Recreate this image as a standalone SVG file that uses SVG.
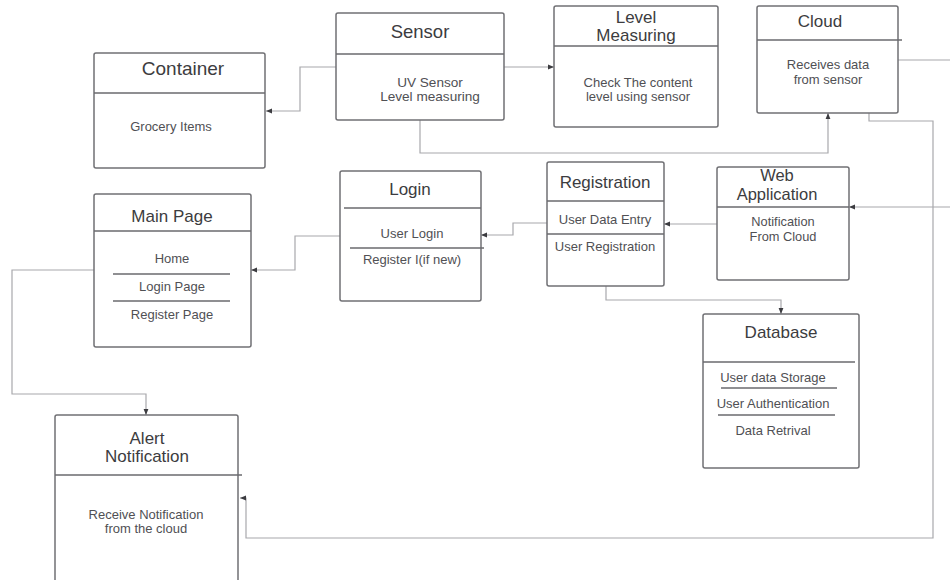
<svg xmlns="http://www.w3.org/2000/svg" width="950" height="580" viewBox="0 0 950 580">
<defs>
<style>
.box{fill:#fff;stroke:#707074;stroke-width:1.5}
.div{stroke:#6a6a6e;stroke-width:1.3;fill:none}
.t{font-family:"Liberation Sans",Arial,sans-serif;font-size:17px;fill:#3c3c40;text-anchor:middle}
.b{font-family:"Liberation Sans",Arial,sans-serif;font-size:13px;fill:#505054;text-anchor:middle}
.c{fill:none;stroke:#a8a8ac;stroke-width:1.2}
</style>
<marker id="ar" viewBox="0 0 10 10" refX="10" refY="5" markerWidth="6" markerHeight="6" orient="auto" markerUnits="userSpaceOnUse">
<path d="M0,1 L10,5 L0,9 z" fill="#3c3c40"/>
</marker>
</defs>
<rect width="950" height="580" fill="#fff"/>

<g id="connectors">
<path class="c" d="M336,67 H300 V111 H266" marker-end="url(#ar)"/>
<path class="c" d="M504,67 H554" marker-end="url(#ar)"/>
<path class="c" d="M420,120 V153 H828 V113" marker-end="url(#ar)"/>
<path class="c" d="M898,60 H950"/>
<path class="c" d="M869,113 V121 H933 V538 H246 V498 H240" marker-end="url(#ar)"/>
<path class="c" d="M950,207 H849" marker-end="url(#ar)"/>
<path class="c" d="M717,224 H664" marker-end="url(#ar)"/>
<path class="c" d="M547,223 H513 V235 H481" marker-end="url(#ar)"/>
<path class="c" d="M340,236 H295 V270 H251" marker-end="url(#ar)"/>
<path class="c" d="M94,270 H12 V394 H146 V415" marker-end="url(#ar)"/>
<path class="c" d="M606,286 V300 H781 V314" marker-end="url(#ar)"/>
</g>

<g id="container">
<rect class="box" x="94" y="53" width="171" height="115" rx="2"/>
<line class="div" x1="94" y1="93" x2="265" y2="93"/>
<text class="t" x="183" y="75" style="font-size:19px">Container</text>
<text class="b" x="171" y="130.5">Grocery Items</text>
</g>

<g id="sensor">
<rect class="box" x="336" y="13" width="168" height="107" rx="2"/>
<line class="div" x1="336" y1="54" x2="504" y2="54"/>
<text class="t" x="420" y="37.5" style="font-size:18.5px">Sensor</text>
<text class="b" x="430" y="86.5" style="font-size:13.6px">UV Sensor</text>
<text class="b" x="430" y="100.5" style="font-size:13.6px">Level measuring</text>
</g>

<g id="level-measuring">
<rect class="box" x="554" y="6" width="164" height="121" rx="2"/>
<line class="div" x1="554" y1="46" x2="718" y2="46"/>
<text class="t" x="636" y="23">Level</text>
<text class="t" x="636" y="41">Measuring</text>
<text class="b" x="638" y="86.5">Check The content</text>
<text class="b" x="638" y="100.5">level using sensor</text>
</g>

<g id="cloud">
<rect class="box" x="757" y="6" width="141" height="107" rx="2"/>
<line class="div" x1="757" y1="40" x2="902" y2="40"/>
<text class="t" x="820" y="27">Cloud</text>
<text class="b" x="828" y="68.5">Receives data</text>
<text class="b" x="828" y="83.5">from sensor</text>
</g>

<g id="main-page">
<rect class="box" x="94" y="194" width="157" height="153" rx="2"/>
<line class="div" x1="94" y1="231" x2="251" y2="231"/>
<text class="t" x="172" y="222">Main Page</text>
<text class="b" x="172" y="262.5">Home</text>
<line class="div" x1="113" y1="274" x2="230" y2="274"/>
<text class="b" x="172" y="290.5">Login Page</text>
<line class="div" x1="113" y1="301" x2="230" y2="301"/>
<text class="b" x="172" y="318.5">Register Page</text>
</g>

<g id="login">
<rect class="box" x="340" y="171" width="141" height="130" rx="2"/>
<line class="div" x1="344" y1="208" x2="481" y2="208"/>
<text class="t" x="410" y="195">Login</text>
<text class="b" x="412" y="237.5">User Login</text>
<line class="div" x1="350" y1="248" x2="484" y2="248"/>
<text class="b" x="412" y="263.5">Register I(if new)</text>
</g>

<g id="registration">
<rect class="box" x="547" y="162" width="117" height="124" rx="2"/>
<line class="div" x1="547" y1="201" x2="664" y2="201"/>
<line class="div" x1="547" y1="234" x2="664" y2="234"/>
<text class="t" x="605" y="188">Registration</text>
<text class="b" x="605" y="223.5">User Data Entry</text>
<text class="b" x="605" y="250.5">User Registration</text>
</g>

<g id="web-application">
<rect class="box" x="717" y="167" width="132" height="113" rx="2"/>
<line class="div" x1="717" y1="207" x2="849" y2="207"/>
<text class="t" x="777" y="181" style="font-size:16.5px">Web</text>
<text class="t" x="777" y="200" style="font-size:16.5px">Application</text>
<text class="b" x="783" y="226" style="font-size:12.8px">Notification</text>
<text class="b" x="783" y="241" style="font-size:12.8px">From Cloud</text>
</g>

<g id="database">
<rect class="box" x="703" y="314" width="156" height="154" rx="2"/>
<line class="div" x1="703" y1="362" x2="855" y2="362"/>
<text class="t" x="781" y="338">Database</text>
<text class="b" x="773" y="381.5">User data Storage</text>
<line class="div" x1="721" y1="388" x2="837" y2="388"/>
<text class="b" x="773" y="407.5">User Authentication</text>
<line class="div" x1="718" y1="415" x2="835" y2="415"/>
<text class="b" x="773" y="434.5">Data Retrival</text>
</g>

<g id="alert-notification">
<rect class="box" x="55" y="415" width="183" height="170" rx="2"/>
<line class="div" x1="55" y1="475" x2="242" y2="475"/>
<text class="t" x="147" y="444">Alert</text>
<text class="t" x="147" y="462">Notification</text>
<text class="b" x="146" y="518.5">Receive Notification</text>
<text class="b" x="146" y="532.5">from the cloud</text>
</g>
</svg>
